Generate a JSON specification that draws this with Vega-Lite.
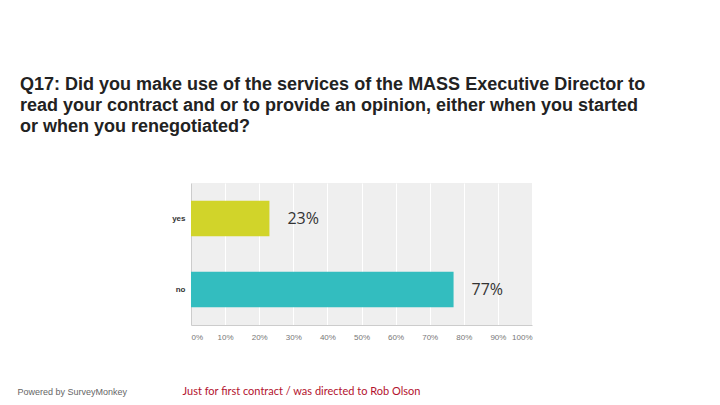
{
  "$schema": "https://vega.github.io/schema/vega-lite/v6.json",
  "width": 341,
  "height": 142,
  "autosize": {"type": "none"},
  "padding": {"left": 191, "top": 183, "right": 188, "bottom": 80},
  "background": "white",
  "title": {
    "text": ["Q17: Did you make use of the services of the MASS Executive Director to", "read your contract and or to provide an opinion, either when you started", "or when you renegotiated?"],
    "anchor": "start",
    "frame": "group",
    "dx": -171,
    "offset": 47,
    "font": "Liberation Sans",
    "fontSize": 18,
    "fontWeight": "bold",
    "color": "#222222",
    "lineHeight": 21
  },
  "config": {
    "view": {"fill": "#efefef", "stroke": null},
    "font": "Liberation Sans"
  },
  "data": {
    "values": [
      {"answer": "yes", "percent": 23, "label": "23%"},
      {"answer": "no", "percent": 77, "label": "77%"}
    ]
  },
  "encoding": {
    "y": {
      "field": "answer",
      "type": "nominal",
      "sort": ["yes", "no"],
      "scale": {"paddingInner": 0.5, "paddingOuter": 0.25},
      "axis": {
        "title": "Powered by SurveyMonkey",
        "titleAngle": 0,
        "titleX": -174,
        "titleY": 208,
        "titleAlign": "left",
        "titleBaseline": "middle",
        "titleFont": "Liberation Sans",
        "titleFontSize": 9,
        "titleFontWeight": "normal",
        "titleColor": "#666666",
        "labelFontSize": 8,
        "labelFontWeight": "bold",
        "labelColor": "#333333",
        "labelPadding": 6,
        "ticks": false,
        "domainColor": "#cccccc",
        "grid": false
      }
    },
    "x": {
      "field": "percent",
      "type": "quantitative",
      "scale": {"domain": [0, 100]},
      "axis": {
        "values": [0, 10, 20, 30, 40, 50, 60, 70, 80, 90, 100],
        "labelExpr": "datum.value + '%'",
        "labelFontSize": 8,
        "labelColor": "#777777",
        "labelPadding": 8,
        "ticks": false,
        "domainColor": "#cccccc",
        "gridColor": "#ffffff",
        "gridWidth": 1,
        "gridOpacity": 1,
        "title": "Just for first contract / was directed to Rob Olson",
        "titleAnchor": "start",
        "titleX": -9,
        "titleY": 66,
        "titleBaseline": "middle",
        "titleFont": "Lato",
        "titleFontSize": 11,
        "titleFontWeight": "normal",
        "titleColor": "#b3122e"
      }
    }
  },
  "layer": [
    {
      "mark": {"type": "bar"},
      "encoding": {
        "color": {
          "field": "answer",
          "type": "nominal",
          "scale": {"domain": ["yes", "no"], "range": ["#d1d42a", "#33bdbf"]},
          "legend": null
        }
      }
    },
    {
      "mark": {"type": "text", "align": "left", "baseline": "middle", "dx": 18, "fontSize": 16, "font": "Open Sans", "color": "#333333"},
      "encoding": {
        "text": {"field": "label"}
      }
    }
  ]
}
